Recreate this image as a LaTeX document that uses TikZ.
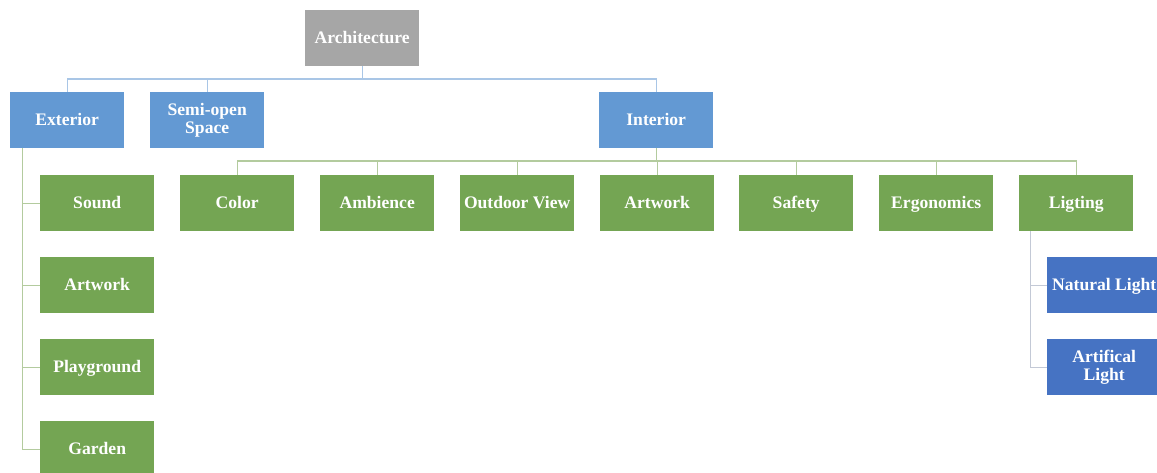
\documentclass[tikz,border=0pt]{standalone}
\usepackage{fontspec}
\setmainfont{Liberation Serif}
\begin{document}
\begin{tikzpicture}[x=1pt,y=-1pt,
  box/.style={anchor=north west, minimum width=114pt, minimum height=56pt, inner sep=0pt,
    align=center, text=white, text height=13.5pt, text depth=2.5pt,
    font=\fontsize{17.6}{18}\selectfont\bfseries},
  twoline/.style={text height=, text depth=},
  graybox/.style={box, fill=archgray},
  bluebox/.style={box, fill=lvlblue},
  greenbox/.style={box, fill=lvlgreen},
  darkbox/.style={box, fill=lvldark},
  bluelink/.style={draw=linkblue, line width=1.3pt},
  greenlink/.style={draw=linkgreen, line width=1.3pt},
  graylink/.style={draw=linkgray, line width=1.3pt}]
\definecolor{archgray}{HTML}{A6A6A6}
\definecolor{lvlblue}{HTML}{6399D3}
\definecolor{lvlgreen}{HTML}{74A553}
\definecolor{lvldark}{HTML}{4673C3}
\definecolor{linkblue}{HTML}{A9C6E6}
\definecolor{linkgreen}{HTML}{B3CB9E}
\definecolor{linkgray}{HTML}{C3C9D6}
\useasboundingbox (0,0) rectangle (1157,472);
\clip (0,0) rectangle (1157,472);
% level 0
\node[graybox] (arch) at (305,10) {Architecture};
% level 1
\node[bluebox] (ext) at (10,92) {Exterior};
\node[bluebox, twoline] (semi) at (150,92) {Semi-open\\Space};
\node[bluebox] (int) at (599,92) {Interior};
% interior children
\node[greenbox] (color) at (180,175) {Color};
\node[greenbox] (amb) at (320,175) {Ambience};
\node[greenbox] (view) at (460,175) {Outdoor View};
\node[greenbox] (iart) at (600,175) {Artwork};
\node[greenbox] (safe) at (739,175) {Safety};
\node[greenbox] (ergo) at (879,175) {Ergonomics};
\node[greenbox] (light) at (1019,175) {Ligting};
% exterior children
\node[greenbox] (sound) at (40,175) {Sound};
\node[greenbox] (eart) at (40,257) {Artwork};
\node[greenbox] (play) at (40,339) {Playground};
\node[greenbox] (garden) at (40,421) {Garden};
% lighting children
\node[darkbox] (nat) at (1047,257) {Natural Light};
\node[darkbox, twoline] (artl) at (1047,339) {Artifical\\Light};
% connectors level 0 -> 1
\coordinate (abus) at (arch.south |- 0,79);
\draw[bluelink] (arch.south) -- (abus);
\draw[bluelink] (abus) -| (ext.north);
\draw[bluelink] (abus) -| (semi.north);
\draw[bluelink] (abus) -| (int.north);
% interior -> children
\coordinate (ibus) at (int.south |- 0,161);
\draw[greenlink] (int.south) -- (ibus);
\foreach \n in {color,amb,view,iart,safe,ergo,light}
  \draw[greenlink] (ibus) -| (\n.north);
% exterior -> children
\coordinate (ebus) at ([xshift=-45pt]ext.south);
\draw[greenlink] (ebus) |- (garden.west);
\foreach \n in {sound,eart,play}
  \draw[greenlink] (\n.west) -- (\n.west -| ebus);
% lighting -> children
\coordinate (lbus) at ([xshift=-46pt]light.south);
\draw[graylink] (lbus) |- (artl.west);
\draw[graylink] (nat.west) -- (nat.west -| lbus);
\end{tikzpicture}
\end{document}
